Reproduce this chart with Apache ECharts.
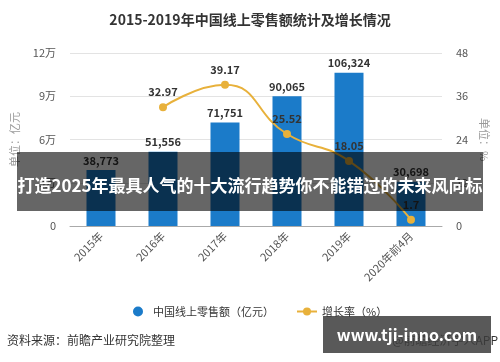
<!DOCTYPE html>
<html><head><meta charset="utf-8">
<script src="https://cdn.jsdelivr.net/npm/echarts@6/dist/echarts.min.js"></script>
<style>html,body{margin:0;padding:0;background:#fff}#c{width:500px;height:362px}</style>
</head><body><div id="c"></div>
<script>
var categories = ['2015年','2016年','2017年','2018年','2019年','2020年前4月'];
var salesValues = [38773, 51556, 71751, 90065, 106324, 30698];
var growthValues = [null, 32.97, 39.17, 25.52, 18.05, 1.7];
var leftTicks = {0:'0',30000:'3万',60000:'6万',90000:'9万',120000:'12万'};

var font = '"Noto Sans CJK SC","Microsoft YaHei",sans-serif';
var chart = echarts.init(document.getElementById('c'), null, {renderer:'canvas'});
chart.setOption({
  animation:false,
  textStyle:{fontFamily:font},
  title:{text:'2015-2019年中国线上零售额统计及增长情况',left:'center',top:8,
    textStyle:{fontSize:14,fontWeight:'bold',color:'#333',fontFamily:font}},
  grid:{left:70,right:58,top:53,bottom:136},
  legend:{bottom:40,left:128,itemGap:22,itemWidth:20,itemHeight:10,
    textStyle:{fontSize:11,color:'#333',fontFamily:font},
    data:[{name:'中国线上零售额（亿元）',icon:'circle'},{name:'增长率（%）'}]},
  xAxis:{type:'category',data:categories,
    axisLine:{lineStyle:{color:'#aaa'}},
    axisTick:{alignWithLabel:true,length:5,lineStyle:{color:'#aaa'}},
    axisLabel:{rotate:45,fontSize:11,color:'#555',margin:8,fontFamily:font}},
  yAxis:[
    {type:'value',min:0,max:120000,interval:30000,name:'单位：亿元',nameLocation:'middle',nameGap:50,nameRotate:90,
     nameTextStyle:{color:'#999',fontSize:11,fontFamily:font},
     axisLabel:{fontSize:11,color:'#555',margin:14,formatter:function(v){return leftTicks[v];}},
     splitLine:{lineStyle:{color:'#e3e3e3'}},axisLine:{show:false},axisTick:{show:false}},
    {type:'value',min:0,max:48,interval:12,name:'单位：%',nameLocation:'middle',nameGap:35,nameRotate:-90,
     nameTextStyle:{color:'#999',fontSize:11,fontFamily:font},
     axisLabel:{fontSize:11,color:'#555',margin:14},
     splitLine:{show:false},axisLine:{show:false},axisTick:{show:false}}
  ],
  series:[
    {name:'中国线上零售额（亿元）',type:'bar',data:salesValues,barWidth:29,
     itemStyle:{color:'#1b7bc9'},
     label:{show:true,position:'top',fontSize:11,fontWeight:'bold',color:'#333',distance:4,
       formatter:function(p){return p.value.toLocaleString('en-US');}}},
    {name:'增长率（%）',type:'line',yAxisIndex:1,data:growthValues,smooth:true,
     symbol:'circle',symbolSize:8,lineStyle:{color:'#e8b13b',width:2},itemStyle:{color:'#e8b13b'},
     label:{show:true,position:'top',fontSize:11,fontWeight:'bold',color:'#333',distance:6}}
  ],
  graphic:[
    {type:'text',left:7,top:334,style:{text:'资料来源：前瞻产业研究院整理',fontSize:12,fill:'#333',fontFamily:font}},
    {type:'text',right:2,top:334,style:{text:'@前瞻经济学人APP',fontSize:12,fill:'#333',fontFamily:font}},
    {type:'rect',shape:{x:17,y:152,width:466,height:59},style:{fill:'rgba(0,0,0,0.6)'},z:100},
    {type:'text',x:250,y:186,z:101,style:{text:'打造2025年最具人气的十大流行趋势你不能错过的未来风向标',
      fontSize:17,fontWeight:'bold',fill:'#fff',align:'center',verticalAlign:'middle',fontFamily:font}},
    {type:'rect',shape:{x:323,y:316,width:168,height:37},style:{fill:'rgba(60,60,60,0.85)'},z:100},
    {type:'text',x:407,y:335,z:101,style:{text:'www.tji-inno.com',fontSize:16,fontWeight:'bold',fill:'#fff',
      align:'center',verticalAlign:'middle',fontFamily:font}}
  ]
});
</script></body></html>
